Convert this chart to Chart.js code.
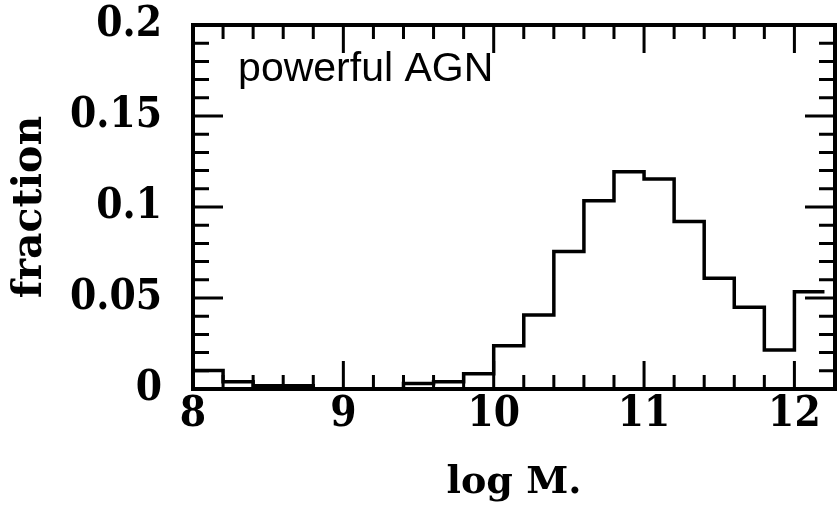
<!DOCTYPE html>
<html>
<head>
<meta charset="utf-8">
<script src="https://cdn.jsdelivr.net/npm/chart.js@4.4.1/dist/chart.umd.min.js"></script>
<style>
html,body{margin:0;padding:0;background:#fff;}
#wrap{width:837px;height:515px;position:relative;}
</style>
</head>
<body>
<div id="wrap"><canvas id="c" width="837" height="515"></canvas></div>
<script>
// ---- data ----
const binStarts = [8.0, 8.2, 8.4, 8.6, 8.8, 9.0, 9.2, 9.4, 9.6, 9.8, 10.0, 10.2, 10.4, 10.6, 10.8, 11.0, 11.2, 11.4, 11.6, 11.8, 12.0];
const binWidth = 0.2;
const fractions = [0.0102, 0.004, 0.0018, 0.0018, 0, 0, 0, 0.003, 0.004, 0.0084, 0.0238, 0.0407, 0.0755, 0.1035, 0.1194, 0.1154, 0.092, 0.0608, 0.0449, 0.0214, 0.0535];
const xTickLabels = [8, 9, 10, 11, 12];
const yTickLabels = [0, 0.05, 0.1, 0.15, 0.2];
const xRange = [8, 12.27];
const yRange = [0, 0.2];
const xMinorStep = 0.2;
const yMinorStep = 0.01;
const xTitle = 'log M.';
const yTitle = 'fraction';
const annotationText = 'powerful AGN';
const annotationPos = [8.3, 0.169];

// ---- build histogram outline points ----
const points = binStarts.map((x, i) => ({ x: x, y: fractions[i] }));
points.push({ x: binStarts[binStarts.length - 1] + binWidth, y: fractions[fractions.length - 1] });

const near = (a, b) => Math.abs(a - b) < 1e-6;
const isIn = (v, list) => list.some(l => near(v, l));
const onStep = (v, base, step) => near((v - base) / step, Math.round((v - base) / step));

const serif = '"DejaVu Serif Condensed", "DejaVu Serif", serif';
const serifWide = '"DejaVu Serif", serif';

const framePlugin = {
  id: 'frame',
  afterDatasetsDraw(chart) {
    const { ctx, chartArea: a, scales: { x, y } } = chart;
    ctx.save();
    ctx.strokeStyle = '#000';
    ctx.lineCap = 'butt';
    ctx.lineWidth = 3;
    x.ticks.forEach(t => {
      const v = t.value;
      if (!onStep(v, xRange[0], xMinorStep)) return;
      const px = x.getPixelForValue(v);
      const len = isIn(v, xTickLabels) ? 28 : 14;
      ctx.beginPath();
      ctx.moveTo(px, a.bottom); ctx.lineTo(px, a.bottom - len);
      ctx.moveTo(px, a.top); ctx.lineTo(px, a.top + len);
      ctx.stroke();
    });
    y.ticks.forEach(t => {
      const v = t.value;
      if (!onStep(v, yRange[0], yMinorStep)) return;
      const py = y.getPixelForValue(v);
      const len = isIn(v, yTickLabels) ? 30 : 16;
      ctx.beginPath();
      ctx.moveTo(a.left, py); ctx.lineTo(a.left + len, py);
      ctx.moveTo(a.right, py); ctx.lineTo(a.right - len, py);
      ctx.stroke();
    });
    ctx.lineWidth = 4;
    ctx.strokeRect(a.left, a.top, a.right - a.left, a.bottom - a.top);
    ctx.fillStyle = '#000';
    ctx.font = '41px "Liberation Sans", Arial, sans-serif';
    ctx.textBaseline = 'alphabetic';
    ctx.textAlign = 'left';
    ctx.fillText(annotationText, x.getPixelForValue(annotationPos[0]), y.getPixelForValue(annotationPos[1]));
    ctx.restore();
  }
};

const bgPlugin = {
  id: 'bg',
  beforeDraw(chart) {
    const ctx = chart.ctx;
    ctx.save();
    ctx.fillStyle = '#fff';
    ctx.fillRect(0, 0, chart.width, chart.height);
    ctx.restore();
  }
};

new Chart(document.getElementById('c'), {
  type: 'line',
  data: {
    datasets: [{
      data: points,
      stepped: 'before',
      borderColor: '#000',
      borderWidth: 3.5,
      pointRadius: 0,
      fill: false,
      tension: 0
    }]
  },
  options: {
    responsive: false,
    animation: false,
    devicePixelRatio: 1,
    layout: { padding: { top: 25, right: 2, left: 0, bottom: 0 } },
    plugins: { legend: { display: false }, tooltip: { enabled: false } },
    scales: {
      x: {
        type: 'linear',
        min: xRange[0],
        max: xRange[1],
        grid: { display: false, drawTicks: false },
        border: { display: false },
        ticks: {
          stepSize: xMinorStep,
          autoSkip: false,
          maxRotation: 0,
          padding: 1,
          color: '#000',
          font: { family: serif, size: 42, weight: 'bold' },
          callback: v => isIn(v, xTickLabels) ? String(Math.round(v)) : ''
        },
        title: {
          display: true,
          text: xTitle,
          color: '#000',
          font: { family: serifWide, size: 38, weight: 'bold' },
          padding: { top: 0, bottom: 9 }
        },
        afterFit: s => { s.height = 126; s.paddingLeft = 0; s.paddingRight = 0; }
      },
      y: {
        type: 'linear',
        min: yRange[0],
        max: yRange[1],
        grid: { display: false, drawTicks: false },
        border: { display: false },
        ticks: {
          stepSize: yMinorStep,
          autoSkip: false,
          padding: 31,
          color: '#000',
          font: { family: serif, size: 42, weight: 'bold' },
          callback: v => isIn(v, yTickLabels) ? String(parseFloat(v.toFixed(2))) : ''
        },
        title: {
          display: true,
          text: yTitle,
          color: '#000',
          font: { family: serifWide, size: 41, weight: 'bold' },
          padding: { top: 6, bottom: 0 }
        },
        afterFit: s => { s.width = 193; s.paddingTop = 0; s.paddingBottom = 0; }
      }
    }
  },
  plugins: [bgPlugin, framePlugin]
});
</script>
</body>
</html>
